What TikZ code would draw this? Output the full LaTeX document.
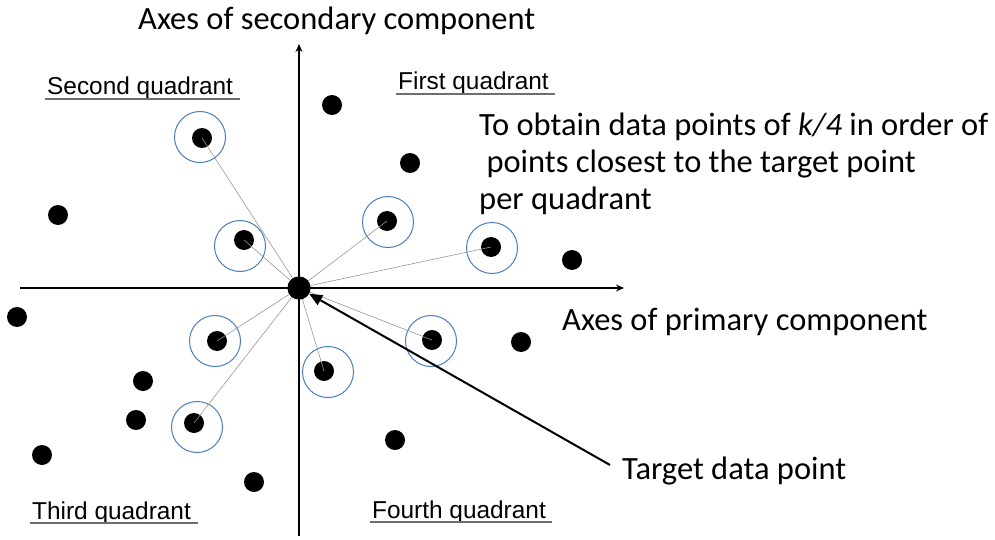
\documentclass[tikz,border=0pt]{standalone}
\usepackage{fontspec}
\setmainfont{Carlito}
\newfontfamily\arialf{Liberation Sans}
\usetikzlibrary{arrows.meta}
\definecolor{ringblue}{RGB}{74,126,187}
\definecolor{spokegray}{RGB}{150,150,150}
\definecolor{ulgray}{RGB}{110,110,110}
\tikzset{
  dot/.style={circle,fill=black,inner sep=0pt,minimum size=20pt},
  tgt/.style={circle,fill=black,inner sep=0pt,minimum size=23pt},
  ring/.style={circle,draw=ringblue,line width=1pt,inner sep=0pt,minimum size=51pt},
  spoke/.style={draw=spokegray,line width=0.6pt},
  axis/.style={line width=2pt,-{Stealth[length=8pt,width=7pt]}},
  bigtxt/.style={font=\fontsize{32.5}{38}\selectfont,anchor=base west,inner sep=0pt},
  qtxt/.style={font=\arialf\fontsize{24.4}{28}\selectfont,anchor=base west,inner sep=0pt},
  uline/.style={draw=ulgray,line width=1.5pt}
}
\begin{document}
\begin{tikzpicture}[x=1pt,y=-1pt]
\useasboundingbox (0,0) rectangle (995,540);
% axes
\coordinate (hl) at (20,288);
\coordinate (hr) at (624,288);
\coordinate (vb) at (299,536);
\coordinate (vt) at (299,44);
\draw[axis] (hl) -- (hr);
\draw[axis] (vb) -- (vt);
% rings
\node[ring] (r1) at (200,137) {};
\node[ring] (r2) at (240,246) {};
\node[ring] (r3) at (388,222) {};
\node[ring] (r4) at (492,248) {};
\node[ring] (r5) at (215,341) {};
\node[ring] (r6) at (431,341) {};
\node[ring] (r7) at (328,372) {};
\node[ring] (r8) at (197,427) {};
% target
\node[tgt] (t) at (299,288) {};
% circled dots
\node[dot] (c1) at (202,138) {};
\node[dot] (c2) at (244,240) {};
\node[dot] (c3) at (387,221) {};
\node[dot] (c4) at (491,247) {};
\node[dot] (c5) at (217,341) {};
\node[dot] (c6) at (432,340) {};
\node[dot] (c7) at (324,371) {};
\node[dot] (c8) at (194,423) {};
% other dots
\node[dot] (d1) at (332,105) {};
\node[dot] (d2) at (410,163) {};
\node[dot] (d3) at (58,215) {};
\node[dot] (d4) at (572,260) {};
\node[dot] (d5) at (17,317) {};
\node[dot] (d6) at (521,342) {};
\node[dot] (d7) at (143,381) {};
\node[dot] (d8) at (136,420) {};
\node[dot] (d9) at (42,455) {};
\node[dot] (d10) at (395,440) {};
\node[dot] (d11) at (254,482) {};
% spokes
\foreach \c in {c1,c2,c3,c4,c5,c6,c7,c8}
  \draw[spoke] (t.center) -- (\c.center);
\node[tgt] at (299,288) {};
% target arrow
\coordinate (af) at (610,465);
\draw[line width=2pt,-{Triangle[length=13pt,width=11pt]}] (af) -- (t);
% texts
\node[bigtxt] (ysec) at (138,30) {Axes of secondary component};
\node[bigtxt] (xpri) at (562,330) {Axes of primary component};
\node[bigtxt] (tdp) at (622,479) {Target data point};
\node[bigtxt] (n1) at (479,136) {To obtain data points of \textit{k/4} in order of};
\node[bigtxt] (n2) at (479,172) {\ points closest to the target point};
\node[bigtxt] (n3) at (479,209) {per quadrant};
% quadrant labels
\node[qtxt] (q2) at (47,95) {Second quadrant};
\draw[uline] (45,99) -- (240,99);
\node[qtxt] (q1) at (398,90) {First quadrant};
\draw[uline] (396,94) -- (555,94);
\node[qtxt] (q3) at (32,519) {Third quadrant};
\draw[uline] (30,523) -- (198,523);
\node[qtxt] (q4) at (372,518) {Fourth quadrant};
\draw[uline] (370,522) -- (552,522);
\end{tikzpicture}
\end{document}
